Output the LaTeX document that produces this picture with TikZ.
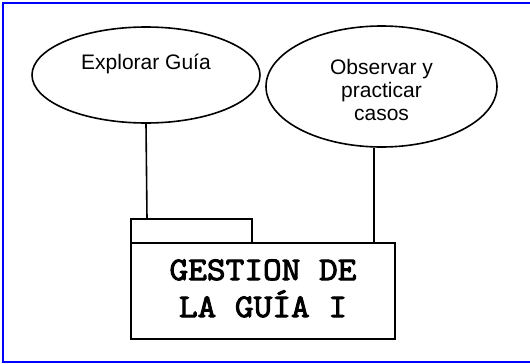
\documentclass[tikz,border=0pt]{standalone}
\usepackage{fontspec}
\setmainfont{Liberation Sans}
\newfontfamily\boxfont[FakeBold=3,FakeStretch=1.1]{Latin Modern Mono}
\usetikzlibrary{shapes.geometric}
\begin{document}
\begin{tikzpicture}[x=1pt,y=-1pt,
  oval/.style={ellipse,draw,line width=1.6pt,inner sep=0pt},
  lbl/.style={font=\fontsize{21}{22.7}\selectfont,align=center,inner sep=0pt},
  conn/.style={draw,line width=1.6pt},
  frameline/.style={draw=blue,line width=2.2pt}]
\useasboundingbox (0,0) rectangle (530,364);
\draw[frameline] (531,3) -- (3,3) -- (3,362) -- (531,362);
\node[oval,minimum width=228,minimum height=96] (e1) at (146,75) {};
\node[lbl,anchor=base] (t1) at (146,69) {Explorar Guía};
\node[oval,minimum width=231,minimum height=121] (e2) at (381.5,86.5) {};
\node[lbl] (t2) at (381.5,90) {Observar y\\practicar\\casos};
\draw[line width=1.6pt] (131,219) rectangle (252,243);
\node[draw,line width=1.6pt,minimum width=264,minimum height=96,inner sep=0pt] (box) at (263,291) {};
\node[font=\boxfont\fontsize{33}{37}\selectfont,align=center,inner sep=0pt,anchor=base] (bt) at (263,317) {GESTION DE\\LA GUÍA I};
\coordinate (c1) at (147,219);
\coordinate (c2) at (374,243);
\draw[conn] (e1.south) -- (c1);
\draw[conn] (e2.south -| c2) -- (c2);
\end{tikzpicture}
\end{document}
